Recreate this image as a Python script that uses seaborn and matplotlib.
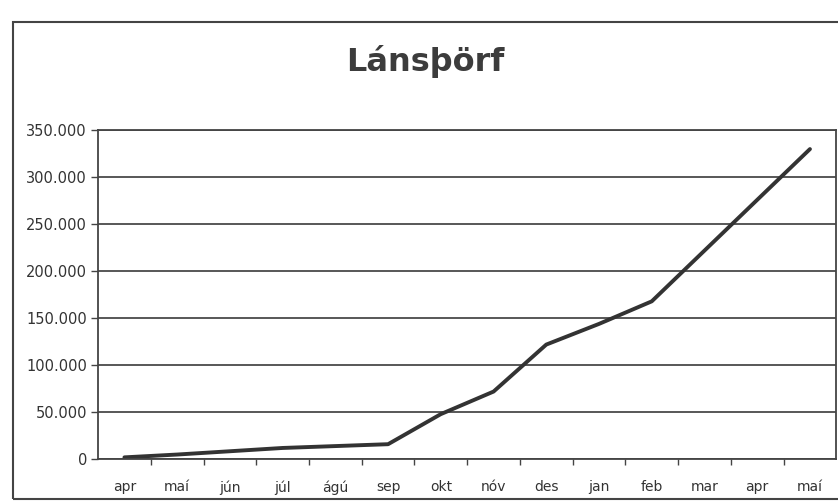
import numpy as np
import pandas as pd
import seaborn as sns
import matplotlib.pyplot as plt
from matplotlib.patches import Rectangle
from matplotlib.ticker import FuncFormatter, FixedLocator

# data
months = ['apr', 'maí', 'jún', 'júl', 'ágú', 'sep', 'okt',
          'nóv', 'des', 'jan', 'feb', 'mar', 'apr', 'maí']
lansthorf = [2000, 5000, 8500, 12000, 14000, 16000, 48000,
             72000, 122000, 144000, 168000, 222000, 276000, 330000]
y_ticks = [0, 50000, 100000, 150000, 200000, 250000, 300000, 350000]

df = pd.DataFrame({'pos': np.arange(len(months)), 'value': lansthorf})

sns.set_theme(style='white')
plt.rcParams['font.family'] = ['DejaVu Sans']

fig = plt.figure(figsize=(8.38, 5.03), dpi=100)
fig.patch.set_facecolor('white')

# outer chart frame
fig.patches.append(Rectangle((0.015, 0.008), 1.2, 0.948, transform=fig.transFigure,
                             fill=False, edgecolor='#444444', linewidth=1.5))

ax = fig.add_axes([0.117, 0.087, 0.881, 0.654])
sns.lineplot(data=df, x='pos', y='value', ax=ax, color='#333333', linewidth=2.8)

ax.set_xlim(-0.5, len(months) - 0.5)
ax.set_ylim(0, 350000)
ax.set_yticks(y_ticks)
ax.yaxis.set_major_formatter(FuncFormatter(lambda v, p: f'{int(v):,}'.replace(',', '.')))
ax.grid(axis='y', color='#4a4a4a', linewidth=1.3)
ax.set_axisbelow(True)

ax.set_xticks(df['pos'])
ax.set_xticklabels(months)
ax.xaxis.set_minor_locator(FixedLocator(np.arange(0.5, len(months) - 0.5, 1)))
ax.tick_params(axis='x', which='major', length=0, pad=15, labelsize=10, colors='#333333')
ax.tick_params(axis='x', which='minor', length=4, width=1, color='#444444', bottom=True)
ax.tick_params(axis='y', which='major', length=5, width=1, color='#444444', left=True,
               pad=3, labelsize=10.5, labelcolor='#333333')

for s in ax.spines.values():
    s.set_color('#444444')
    s.set_linewidth(1.3)
ax.set_xlabel('')
ax.set_ylabel('')

fig.text(0.507, 0.878, 'Lánsþörf', ha='center', va='center',
         fontsize=23, fontweight='bold', color='#3c3c3c')

fig.savefig('out.png', dpi=100)
